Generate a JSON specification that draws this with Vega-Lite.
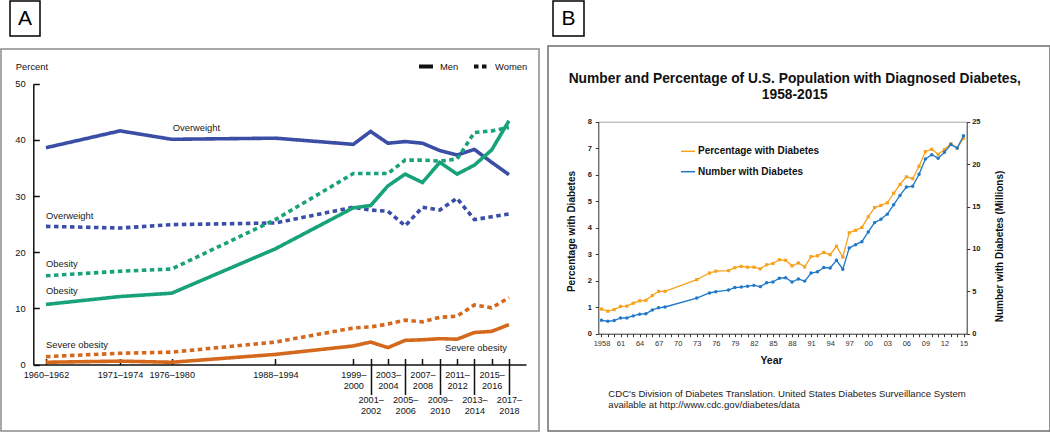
{
  "$schema": "https://vega.github.io/schema/vega-lite/v6.json",
  "padding": {"left": 0, "top": 0, "right": 0, "bottom": 0},
  "background": "white",
  "config": {"view": {"stroke": null}, "font": "Liberation Sans", "axis": {"grid": false}},
  "resolve": {"scale": {"color": "independent", "strokeDash": "independent"}, "legend": {"color": "independent", "strokeDash": "independent"}},
  "datasets": {
    "one": [{}],
    "obesity": [
      {"year": 1961, "sex": "Men", "measure": "Overweight", "pct": 38.6},
      {"year": 1972.5, "sex": "Men", "measure": "Overweight", "pct": 41.6},
      {"year": 1978, "sex": "Men", "measure": "Overweight", "pct": 40.1},
      {"year": 1991, "sex": "Men", "measure": "Overweight", "pct": 40.3},
      {"year": 1999.5, "sex": "Men", "measure": "Overweight", "pct": 39.2},
      {"year": 2001.5, "sex": "Men", "measure": "Overweight", "pct": 41.5},
      {"year": 2003.5, "sex": "Men", "measure": "Overweight", "pct": 39.4},
      {"year": 2005.5, "sex": "Men", "measure": "Overweight", "pct": 39.7},
      {"year": 2007.5, "sex": "Men", "measure": "Overweight", "pct": 39.4},
      {"year": 2009.5, "sex": "Men", "measure": "Overweight", "pct": 38.1},
      {"year": 2011.5, "sex": "Men", "measure": "Overweight", "pct": 37.3},
      {"year": 2013.5, "sex": "Men", "measure": "Overweight", "pct": 38.3},
      {"year": 2015.5, "sex": "Men", "measure": "Overweight", "pct": 36.0},
      {"year": 2017.5, "sex": "Men", "measure": "Overweight", "pct": 33.8},
      {"year": 1961, "sex": "Women", "measure": "Overweight", "pct": 24.6},
      {"year": 1972.5, "sex": "Women", "measure": "Overweight", "pct": 24.3},
      {"year": 1978, "sex": "Women", "measure": "Overweight", "pct": 24.9},
      {"year": 1991, "sex": "Women", "measure": "Overweight", "pct": 25.2},
      {"year": 1999.5, "sex": "Women", "measure": "Overweight", "pct": 28.0},
      {"year": 2001.5, "sex": "Women", "measure": "Overweight", "pct": 27.5},
      {"year": 2003.5, "sex": "Women", "measure": "Overweight", "pct": 27.3},
      {"year": 2005.5, "sex": "Women", "measure": "Overweight", "pct": 24.7},
      {"year": 2007.5, "sex": "Women", "measure": "Overweight", "pct": 28.0},
      {"year": 2009.5, "sex": "Women", "measure": "Overweight", "pct": 27.5},
      {"year": 2011.5, "sex": "Women", "measure": "Overweight", "pct": 29.6},
      {"year": 2013.5, "sex": "Women", "measure": "Overweight", "pct": 25.8},
      {"year": 2015.5, "sex": "Women", "measure": "Overweight", "pct": 26.3},
      {"year": 2017.5, "sex": "Women", "measure": "Overweight", "pct": 26.8},
      {"year": 1961, "sex": "Men", "measure": "Obesity", "pct": 10.7},
      {"year": 1972.5, "sex": "Men", "measure": "Obesity", "pct": 12.1},
      {"year": 1978, "sex": "Men", "measure": "Obesity", "pct": 12.7},
      {"year": 1991, "sex": "Men", "measure": "Obesity", "pct": 20.6},
      {"year": 1999.5, "sex": "Men", "measure": "Obesity", "pct": 27.9},
      {"year": 2001.5, "sex": "Men", "measure": "Obesity", "pct": 28.3},
      {"year": 2003.5, "sex": "Men", "measure": "Obesity", "pct": 31.8},
      {"year": 2005.5, "sex": "Men", "measure": "Obesity", "pct": 33.9},
      {"year": 2007.5, "sex": "Men", "measure": "Obesity", "pct": 32.4},
      {"year": 2009.5, "sex": "Men", "measure": "Obesity", "pct": 36.0},
      {"year": 2011.5, "sex": "Men", "measure": "Obesity", "pct": 33.9},
      {"year": 2013.5, "sex": "Men", "measure": "Obesity", "pct": 35.5},
      {"year": 2015.5, "sex": "Men", "measure": "Obesity", "pct": 38.2},
      {"year": 2017.5, "sex": "Men", "measure": "Obesity", "pct": 43.4},
      {"year": 1961, "sex": "Women", "measure": "Obesity", "pct": 15.8},
      {"year": 1972.5, "sex": "Women", "measure": "Obesity", "pct": 16.6},
      {"year": 1978, "sex": "Women", "measure": "Obesity", "pct": 17.0},
      {"year": 1991, "sex": "Women", "measure": "Obesity", "pct": 25.8},
      {"year": 1999.5, "sex": "Women", "measure": "Obesity", "pct": 34.0},
      {"year": 2001.5, "sex": "Women", "measure": "Obesity", "pct": 34.0},
      {"year": 2003.5, "sex": "Women", "measure": "Obesity", "pct": 34.0},
      {"year": 2005.5, "sex": "Women", "measure": "Obesity", "pct": 36.4},
      {"year": 2007.5, "sex": "Women", "measure": "Obesity", "pct": 36.4},
      {"year": 2009.5, "sex": "Women", "measure": "Obesity", "pct": 36.2},
      {"year": 2011.5, "sex": "Women", "measure": "Obesity", "pct": 36.6},
      {"year": 2013.5, "sex": "Women", "measure": "Obesity", "pct": 41.3},
      {"year": 2015.5, "sex": "Women", "measure": "Obesity", "pct": 41.6},
      {"year": 2017.5, "sex": "Women", "measure": "Obesity", "pct": 42.2},
      {"year": 1961, "sex": "Men", "measure": "Severe obesity", "pct": 0.4},
      {"year": 1972.5, "sex": "Men", "measure": "Severe obesity", "pct": 0.6},
      {"year": 1978, "sex": "Men", "measure": "Severe obesity", "pct": 0.4},
      {"year": 1991, "sex": "Men", "measure": "Severe obesity", "pct": 1.8},
      {"year": 1999.5, "sex": "Men", "measure": "Severe obesity", "pct": 3.3},
      {"year": 2001.5, "sex": "Men", "measure": "Severe obesity", "pct": 4.0},
      {"year": 2003.5, "sex": "Men", "measure": "Severe obesity", "pct": 3.0},
      {"year": 2005.5, "sex": "Men", "measure": "Severe obesity", "pct": 4.3},
      {"year": 2007.5, "sex": "Men", "measure": "Severe obesity", "pct": 4.4},
      {"year": 2009.5, "sex": "Men", "measure": "Severe obesity", "pct": 4.6},
      {"year": 2011.5, "sex": "Men", "measure": "Severe obesity", "pct": 4.5},
      {"year": 2013.5, "sex": "Men", "measure": "Severe obesity", "pct": 5.7},
      {"year": 2015.5, "sex": "Men", "measure": "Severe obesity", "pct": 5.9},
      {"year": 2017.5, "sex": "Men", "measure": "Severe obesity", "pct": 7.1},
      {"year": 1961, "sex": "Women", "measure": "Severe obesity", "pct": 1.4},
      {"year": 1972.5, "sex": "Women", "measure": "Severe obesity", "pct": 2.0},
      {"year": 1978, "sex": "Women", "measure": "Severe obesity", "pct": 2.2},
      {"year": 1991, "sex": "Women", "measure": "Severe obesity", "pct": 4.0},
      {"year": 1999.5, "sex": "Women", "measure": "Severe obesity", "pct": 6.5},
      {"year": 2001.5, "sex": "Women", "measure": "Severe obesity", "pct": 6.7},
      {"year": 2003.5, "sex": "Women", "measure": "Severe obesity", "pct": 7.2},
      {"year": 2005.5, "sex": "Women", "measure": "Severe obesity", "pct": 7.9},
      {"year": 2007.5, "sex": "Women", "measure": "Severe obesity", "pct": 7.6},
      {"year": 2009.5, "sex": "Women", "measure": "Severe obesity", "pct": 8.4},
      {"year": 2011.5, "sex": "Women", "measure": "Severe obesity", "pct": 8.6},
      {"year": 2013.5, "sex": "Women", "measure": "Severe obesity", "pct": 10.6},
      {"year": 2015.5, "sex": "Women", "measure": "Severe obesity", "pct": 10.1},
      {"year": 2017.5, "sex": "Women", "measure": "Severe obesity", "pct": 11.9}
    ],
    "diabetes": [
      {"year": 1958, "pct": 0.93, "num": 1.58},
      {"year": 1959, "pct": 0.85, "num": 1.47},
      {"year": 1960, "pct": 0.91, "num": 1.55},
      {"year": 1961, "pct": 1.03, "num": 1.85},
      {"year": 1962, "pct": 1.04, "num": 1.86},
      {"year": 1963, "pct": 1.15, "num": 2.1},
      {"year": 1964, "pct": 1.24, "num": 2.3},
      {"year": 1965, "pct": 1.26, "num": 2.35},
      {"year": 1966, "pct": 1.44, "num": 2.8},
      {"year": 1967, "pct": 1.6, "num": 3.05},
      {"year": 1968, "pct": 1.6, "num": 3.15},
      {"year": 1973, "pct": 2.04, "num": 4.2},
      {"year": 1975, "pct": 2.29, "num": 4.8},
      {"year": 1976, "pct": 2.36, "num": 4.95},
      {"year": 1978, "pct": 2.38, "num": 5.15},
      {"year": 1979, "pct": 2.49, "num": 5.45},
      {"year": 1980, "pct": 2.54, "num": 5.5},
      {"year": 1981, "pct": 2.51, "num": 5.6},
      {"year": 1982, "pct": 2.51, "num": 5.7},
      {"year": 1983, "pct": 2.45, "num": 5.55},
      {"year": 1984, "pct": 2.6, "num": 6.0},
      {"year": 1985, "pct": 2.65, "num": 6.1},
      {"year": 1986, "pct": 2.79, "num": 6.55},
      {"year": 1987, "pct": 2.77, "num": 6.6},
      {"year": 1988, "pct": 2.56, "num": 6.1},
      {"year": 1989, "pct": 2.67, "num": 6.45},
      {"year": 1990, "pct": 2.52, "num": 6.2},
      {"year": 1991, "pct": 2.91, "num": 7.15},
      {"year": 1992, "pct": 2.94, "num": 7.3},
      {"year": 1993, "pct": 3.07, "num": 7.8},
      {"year": 1994, "pct": 2.98, "num": 7.75},
      {"year": 1995, "pct": 3.3, "num": 8.65},
      {"year": 1996, "pct": 2.89, "num": 7.6},
      {"year": 1997, "pct": 3.81, "num": 10.1},
      {"year": 1998, "pct": 3.9, "num": 10.5},
      {"year": 1999, "pct": 4.01, "num": 10.85},
      {"year": 2000, "pct": 4.41, "num": 12.0},
      {"year": 2001, "pct": 4.76, "num": 13.1},
      {"year": 2002, "pct": 4.84, "num": 13.5},
      {"year": 2003, "pct": 4.94, "num": 14.1},
      {"year": 2004, "pct": 5.3, "num": 15.2},
      {"year": 2005, "pct": 5.63, "num": 16.3},
      {"year": 2006, "pct": 5.92, "num": 17.3},
      {"year": 2007, "pct": 5.85, "num": 17.4},
      {"year": 2008, "pct": 6.32, "num": 18.8},
      {"year": 2009, "pct": 6.87, "num": 20.6},
      {"year": 2010, "pct": 6.96, "num": 21.1},
      {"year": 2011, "pct": 6.77, "num": 20.7},
      {"year": 2012, "pct": 6.95, "num": 21.4},
      {"year": 2013, "pct": 7.17, "num": 22.3},
      {"year": 2014, "pct": 7.0, "num": 21.9},
      {"year": 2015, "pct": 7.38, "num": 23.35}
    ]
  },
  "hconcat": [
    {
      "resolve": {"scale": {"color": "independent", "strokeDash": "independent"}, "legend": {"color": "independent", "strokeDash": "independent"}},
      "vconcat": [
        {
          "hconcat": [
            {"data": {"name": "one"}, "width": 1, "height": 35, "view": {"stroke": "transparent"}, "mark": {"type": "text"}, "encoding": {"text": {"value": ""}}},
            {"data": {"name": "one"}, "width": 30, "height": 35, "view": {"stroke": "#000000", "strokeWidth": 1.5}, "mark": {"type": "text", "fontSize": 21, "font": "Liberation Sans", "color": "#000000"}, "encoding": {"text": {"value": "A"}}}
          ],
          "spacing": 6
        },
        {
          "width": 538,
          "height": 382,
          "view": {"stroke": "#8c8c8c", "strokeWidth": 1.5},
          "data": {"name": "obesity"},
          "resolve": {"axis": {"x": "independent", "y": "independent"}},
          "layer": [
            {
              "mark": {"type": "line", "strokeWidth": 3.6, "strokeCap": "butt"},
              "encoding": {
                "x": {"field": "year", "type": "quantitative",
                  "scale": {"domain": [1959, 1972.5, 1978, 1991, 1999.5, 2019.47], "range": [32.1, 119, 170.7, 274.4, 352.3, 525], "nice": false, "zero": false},
                  "axis": {"orient": "bottom", "offset": -66.5, "grid": false,
                    "values": [1961, 1972.5, 1978, 1991, 1999.5, 2001.5, 2003.5, 2005.5, 2007.5, 2009.5, 2011.5, 2013.5, 2015.5, 2017.5],
                    "labelExpr": "datum.value == 1961 ? '1960–1962' : datum.value == 1972.5 ? '1971–1974' : datum.value == 1978 ? '1976–1980' : datum.value == 1991 ? '1988–1994' : [format(floor(datum.value), 'd') + '–', format(floor(datum.value) + 1, 'd')]",
                    "labelFlush": false, "labelOverlap": false,
                    "labelPadding": {"condition": {"test": "indexof([2001.5, 2005.5, 2009.5, 2013.5, 2017.5], datum.value) >= 0", "value": 37}, "value": 12},
                    "labelBaseline": "top", "labelAlign": "center", "labelLineHeight": 11,
                    "labelFont": "Liberation Sans", "labelFontSize": 9.1, "labelColor": "#111111",
                    "tickSize": -6, "tickColor": "#111111", "tickWidth": 1.5,
                    "domainColor": "#111111", "domainWidth": 1.5, "title": null}},
                "y": {"field": "pct", "type": "quantitative",
                  "scale": {"domain": [0, 50], "range": [315.5, 34.7], "nice": false, "zero": false},
                  "axis": {"orient": "left", "offset": -32.3, "grid": false, "values": [0, 10, 20, 30, 40, 50],
                    "tickSize": -6, "tickColor": "#111111", "tickWidth": 1.5, "labelPadding": 14,
                    "labelFont": "Liberation Sans", "labelFontSize": 9.4, "labelColor": "#111111",
                    "domainColor": "#111111", "domainWidth": 1.5,
                    "title": "Percent", "titleAngle": 0, "titleX": -18, "titleY": 17, "titleAlign": "left", "titleBaseline": "middle",
                    "titleFont": "Liberation Sans", "titleFontSize": 9.4, "titleFontWeight": "normal", "titleColor": "#111111"}},
                "color": {"field": "measure", "type": "nominal",
                  "scale": {"domain": ["Overweight", "Obesity", "Severe obesity"], "range": ["#3a4ea6", "#17a27a", "#d4691e"]},
                  "legend": null},
                "strokeDash": {"field": "sex", "type": "nominal",
                  "scale": {"domain": ["Men", "Women"], "range": [[1, 0], [4.5, 3.5]]},
                  "legend": {"orient": "none", "legendX": 416, "legendY": 8.5, "direction": "horizontal", "title": null, "gridAlign": "none",
                    "symbolType": "stroke", "symbolSize": 196, "symbolStrokeWidth": 4, "symbolStrokeColor": "#111111",
                    "labelFont": "Liberation Sans", "labelFontSize": 9.4, "labelColor": "#111111",
                    "labelOffset": 5, "columnPadding": 7, "padding": 0}}
              }
            },
            {
              "transform": [{"filter": "datum.measure == 'Overweight' && datum.sex == 'Men' && datum.year == 1978"}],
              "mark": {"type": "text", "font": "Liberation Sans", "fontSize": 9.4, "color": "#1a1a1a", "align": "left", "dx": 1, "dy": -11.3},
              "encoding": {
                "x": {"field": "year", "type": "quantitative", "scale": {"domain": [1959, 1972.5, 1978, 1991, 1999.5, 2019.47], "range": [32.1, 119, 170.7, 274.4, 352.3, 525], "nice": false, "zero": false}, "axis": null},
                "y": {"field": "pct", "type": "quantitative", "axis": null},
                "text": {"value": "Overweight"}
              }
            },
            {
              "transform": [{"filter": "datum.measure == 'Overweight' && datum.sex == 'Women' && datum.year == 1961"}],
              "mark": {"type": "text", "font": "Liberation Sans", "fontSize": 9.4, "color": "#1a1a1a", "align": "left", "dx": 0, "dy": -10.6},
              "encoding": {
                "x": {"field": "year", "type": "quantitative", "scale": {"domain": [1959, 1972.5, 1978, 1991, 1999.5, 2019.47], "range": [32.1, 119, 170.7, 274.4, 352.3, 525], "nice": false, "zero": false}, "axis": null},
                "y": {"field": "pct", "type": "quantitative", "axis": null},
                "text": {"value": "Overweight"}
              }
            },
            {
              "transform": [{"filter": "datum.measure == 'Obesity' && datum.sex == 'Women' && datum.year == 1961"}],
              "mark": {"type": "text", "font": "Liberation Sans", "fontSize": 9.4, "color": "#1a1a1a", "align": "left", "dx": 0, "dy": -12},
              "encoding": {
                "x": {"field": "year", "type": "quantitative", "scale": {"domain": [1959, 1972.5, 1978, 1991, 1999.5, 2019.47], "range": [32.1, 119, 170.7, 274.4, 352.3, 525], "nice": false, "zero": false}, "axis": null},
                "y": {"field": "pct", "type": "quantitative", "axis": null},
                "text": {"value": "Obesity"}
              }
            },
            {
              "transform": [{"filter": "datum.measure == 'Obesity' && datum.sex == 'Men' && datum.year == 1961"}],
              "mark": {"type": "text", "font": "Liberation Sans", "fontSize": 9.4, "color": "#1a1a1a", "align": "left", "dx": 0, "dy": -13},
              "encoding": {
                "x": {"field": "year", "type": "quantitative", "scale": {"domain": [1959, 1972.5, 1978, 1991, 1999.5, 2019.47], "range": [32.1, 119, 170.7, 274.4, 352.3, 525], "nice": false, "zero": false}, "axis": null},
                "y": {"field": "pct", "type": "quantitative", "axis": null},
                "text": {"value": "Obesity"}
              }
            },
            {
              "transform": [{"filter": "datum.measure == 'Severe obesity' && datum.sex == 'Women' && datum.year == 1961"}],
              "mark": {"type": "text", "font": "Liberation Sans", "fontSize": 9.4, "color": "#1a1a1a", "align": "left", "dx": 0, "dy": -12},
              "encoding": {
                "x": {"field": "year", "type": "quantitative", "scale": {"domain": [1959, 1972.5, 1978, 1991, 1999.5, 2019.47], "range": [32.1, 119, 170.7, 274.4, 352.3, 525], "nice": false, "zero": false}, "axis": null},
                "y": {"field": "pct", "type": "quantitative", "axis": null},
                "text": {"value": "Severe obesity"}
              }
            },
            {
              "transform": [{"filter": "datum.measure == 'Severe obesity' && datum.sex == 'Men' && datum.year == 2017.5"}],
              "mark": {"type": "text", "font": "Liberation Sans", "fontSize": 9.4, "color": "#1a1a1a", "align": "right", "dx": -2, "dy": 23},
              "encoding": {
                "x": {"field": "year", "type": "quantitative", "scale": {"domain": [1959, 1972.5, 1978, 1991, 1999.5, 2019.47], "range": [32.1, 119, 170.7, 274.4, 352.3, 525], "nice": false, "zero": false},
                  "axis": {"orient": "bottom", "offset": -66.5, "grid": false, "values": [2001.5, 2005.5, 2009.5, 2013.5, 2017.5], "labels": false, "domain": false, "tickSize": 30, "tickColor": "#111111", "tickWidth": 1.5, "title": null}},
                "y": {"field": "pct", "type": "quantitative", "axis": null},
                "text": {"value": "Severe obesity"}
              }
            }
          ]
        }
      ],
      "spacing": 11
    },
    {
      "resolve": {"scale": {"color": "independent", "strokeDash": "independent"}, "legend": {"color": "independent", "strokeDash": "independent"}},
      "vconcat": [
        {
          "hconcat": [
            {"data": {"name": "one"}, "width": 1, "height": 35, "view": {"stroke": "transparent"}, "mark": {"type": "text"}, "encoding": {"text": {"value": ""}}},
            {"data": {"name": "one"}, "width": 31, "height": 35, "view": {"stroke": "#000000", "strokeWidth": 1.5}, "mark": {"type": "text", "fontSize": 21, "font": "Liberation Sans", "color": "#000000"}, "encoding": {"text": {"value": "B"}}}
          ],
          "spacing": 2
        },
        {
          "width": 502,
          "height": 385,
          "view": {"stroke": "#6e6e6e", "strokeWidth": 1.5},
          "data": {"name": "diabetes"},
          "title": {"text": ["CDC's Division of Diabetes Translation. United States Diabetes Surveillance System", "available at http://www.cdc.gov/diabetes/data"],
            "orient": "bottom", "anchor": "start", "frame": "group", "offset": -42, "dx": 60.3,
            "fontSize": 9.6, "fontWeight": "normal", "font": "Liberation Sans", "color": "#222222", "lineHeight": 11, "baseline": "top"},
          "resolve": {"scale": {"y": "independent"}, "axis": {"x": "independent", "y": "independent"}},
          "layer": [
            {
              "mark": {"type": "line", "strokeWidth": 1.3, "point": {"filled": true, "size": 10, "shape": "square"}},
              "encoding": {
                "x": {"field": "year", "type": "quantitative",
                  "scale": {"domain": [1957.5, 2015.5], "range": [50.3, 418.7], "nice": false, "zero": false},
                  "axis": {"orient": "bottom", "offset": -97.3, "grid": false,
                    "values": [1958, 1959, 1960, 1961, 1962, 1963, 1964, 1965, 1966, 1967, 1968, 1969, 1970, 1971, 1972, 1973, 1974, 1975, 1976, 1977, 1978, 1979, 1980, 1981, 1982, 1983, 1984, 1985, 1986, 1987, 1988, 1989, 1990, 1991, 1992, 1993, 1994, 1995, 1996, 1997, 1998, 1999, 2000, 2001, 2002, 2003, 2004, 2005, 2006, 2007, 2008, 2009, 2010, 2011, 2012, 2013, 2014, 2015],
                    "labelExpr": "(datum.value - 1958) % 3 == 0 ? (datum.value == 1958 ? '1958' : slice(format(datum.value, 'd'), 2)) : ''",
                    "labelFlush": false, "labelOverlap": false, "labelFontSize": 7.5, "labelColor": "#333333", "labelPadding": 3,
                    "tickSize": 3, "tickColor": "#333333", "domainColor": "#333333",
                    "title": "Year", "titleX": 223, "titleY": 26.3, "titleBaseline": "middle", "titleAlign": "center",
                    "titleFontSize": 10.5, "titleFontWeight": "bold", "titleColor": "#111111"}},
                "y": {"field": "pct", "type": "quantitative",
                  "scale": {"domain": [0, 8], "range": [287.7, 75.7], "nice": false, "zero": false},
                  "axis": {"orient": "left", "offset": -50.3, "grid": false, "values": [0, 1, 2, 3, 4, 5, 6, 7, 8],
                    "tickSize": 3, "labelPadding": 4, "labelFontSize": 7.5, "labelFontWeight": "bold", "labelColor": "#222222",
                    "domainColor": "#333333", "tickColor": "#333333",
                    "title": "Percentage with Diabetes", "titleFontSize": 10, "titleFontWeight": "bold", "titleColor": "#111111",
                    "titleAngle": -90, "titleX": -27.3, "titleY": 185, "titleBaseline": "middle", "titleAlign": "center"}},
                "color": {"datum": "Percentage with Diabetes", "type": "nominal",
                  "scale": {"domain": ["Percentage with Diabetes", "Number with Diabetes"], "range": ["#f6a21c", "#1f78c8"]},
                  "legend": {"orient": "none", "legendX": 132, "legendY": 97.3, "title": null, "direction": "vertical",
                    "symbolType": "stroke", "symbolSize": 196, "symbolStrokeWidth": 1.5,
                    "labelFontSize": 10, "labelFontWeight": "bold", "labelColor": "#111111", "labelOffset": 2, "rowPadding": 7.4, "padding": 0}}
              }
            },
            {
              "mark": {"type": "line", "strokeWidth": 1.3, "point": {"filled": true, "size": 12, "shape": "circle"}},
              "encoding": {
                "x": {"field": "year", "type": "quantitative",
                  "scale": {"domain": [1957.5, 2015.5], "range": [50.3, 418.7], "nice": false, "zero": false},
                  "axis": {"orient": "top", "offset": -75.7, "grid": false, "ticks": false, "labels": false,
                    "domainColor": "#a6a6a6", "domainWidth": 1,
                    "title": ["Number and Percentage of U.S. Population with Diagnosed Diabetes,", "1958-2015"],
                    "titleX": 246.3, "titleY": -50, "titleBaseline": "top", "titleAlign": "center", "titleLineHeight": 15.5,
                    "titleFontSize": 13.8, "titleFontWeight": "bold", "titleColor": "#111111"}},
                "y": {"field": "num", "type": "quantitative",
                  "scale": {"domain": [0, 25], "range": [287.7, 75.7], "nice": false, "zero": false},
                  "axis": {"orient": "right", "offset": -83.3, "grid": false, "values": [0, 5, 10, 15, 20, 25],
                    "tickSize": 3, "labelPadding": 2, "labelFontSize": 7.5, "labelFontWeight": "bold", "labelColor": "#222222",
                    "domainColor": "#333333", "tickColor": "#333333",
                    "title": "Number with Diabetes (Millions)", "titleFontSize": 10, "titleFontWeight": "bold", "titleColor": "#111111",
                    "titleAngle": -90, "titleX": 32.6, "titleY": 200, "titleBaseline": "middle", "titleAlign": "center"}},
                "color": {"datum": "Number with Diabetes", "type": "nominal"}
              }
            }
          ]
        }
      ],
      "spacing": 8
    }
  ],
  "spacing": 7
}
